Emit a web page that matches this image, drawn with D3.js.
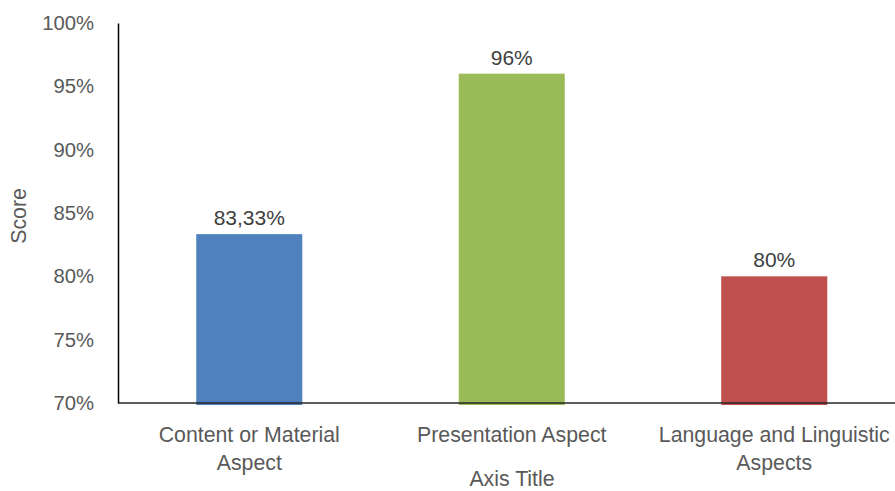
<!DOCTYPE html>
<html>
<head>
<meta charset="UTF-8">
<title>Score by aspect</title>
<script src="https://cdn.jsdelivr.net/npm/d3@7"></script>
<style>
  body { margin: 0; background: #fff; }
  text { font-family: "Liberation Sans", Arial, sans-serif; }
</style>
</head>
<body>
<svg id="chart" width="895" height="491"></svg>
<script>
// chart data
var categories = [["Content or Material", "Aspect"], ["Presentation Aspect"], ["Language and Linguistic", "Aspects"]];
var scores = [0.8333, 0.96, 0.80];
var scoreLabels = ["83,33%", "96%", "80%"];
var barColors = ["#4F81BD", "#9BBB59", "#C0504D"];
var yTicks = [0.70, 0.75, 0.80, 0.85, 0.90, 0.95, 1.00];

var svg = d3.select("#chart");
var plotLeft = 118, plotTop = 23, plotBottom = 403;

var x = d3.scaleBand()
  .domain(d3.range(categories.length))
  .range([plotLeft, plotLeft + 262.5 * categories.length])
  .paddingInner(0.596)
  .paddingOuter(0.298);

var y = d3.scaleLinear().domain([0.70, 1.00]).range([plotBottom, plotTop]);

// bars (run slightly under the axis line like the original)
svg.append("g").selectAll("rect")
  .data(scores)
  .join("rect")
  .attr("x", function (d, i) { return x(i); })
  .attr("y", function (d) { return y(d); })
  .attr("width", x.bandwidth())
  .attr("height", function (d) { return y(0.70) - y(d) + 2; })
  .attr("fill", function (d, i) { return barColors[i]; });

// data labels
svg.append("g").selectAll("text")
  .data(scores)
  .join("text")
  .attr("x", function (d, i) { return x(i) + x.bandwidth() / 2; })
  .attr("y", function (d) { return y(d) - 9; })
  .attr("text-anchor", "middle")
  .attr("fill", "#404040")
  .style("font-size", "21px")
  .text(function (d, i) { return scoreLabels[i]; });

// y axis
var yAxis = svg.append("g")
  .attr("transform", "translate(" + plotLeft + ",0)")
  .call(d3.axisLeft(y).tickValues(yTicks).tickSize(0).tickPadding(24)
    .tickFormat(d3.format(".0%")));
yAxis.select(".domain").attr("stroke", "#000").attr("stroke-width", 1.5);
yAxis.selectAll("text")
  .attr("fill", "#595959")
  .style("font-size", "20.3px")
  .style("font-family", "Liberation Sans, Arial, sans-serif");

// x axis line
svg.append("line")
  .attr("x1", plotLeft).attr("x2", 895)
  .attr("y1", plotBottom).attr("y2", plotBottom)
  .attr("stroke", "#262626")
  .attr("stroke-width", 1.5);

// category labels
var catText = svg.append("g").selectAll("text")
  .data(categories)
  .join("text")
  .attr("x", function (d, i) { return x(i) + x.bandwidth() / 2; })
  .attr("y", 442)
  .attr("text-anchor", "middle")
  .attr("fill", "#595959")
  .style("font-size", "21.3px");
catText.selectAll("tspan")
  .data(function (d) { return d; })
  .join("tspan")
  .attr("x", function () { return d3.select(this.parentNode).attr("x"); })
  .attr("dy", function (d, i) { return i ? 28 : 0; })
  .text(function (d) { return d; });

// axis titles
svg.append("text")
  .attr("x", 512)
  .attr("y", 486)
  .attr("text-anchor", "middle")
  .attr("fill", "#595959")
  .style("font-size", "21.3px")
  .text("Axis Title");

svg.append("text")
  .attr("transform", "translate(26,216) rotate(-90)")
  .attr("text-anchor", "middle")
  .attr("fill", "#595959")
  .style("font-size", "21.3px")
  .text("Score");
</script>
</body>
</html>
